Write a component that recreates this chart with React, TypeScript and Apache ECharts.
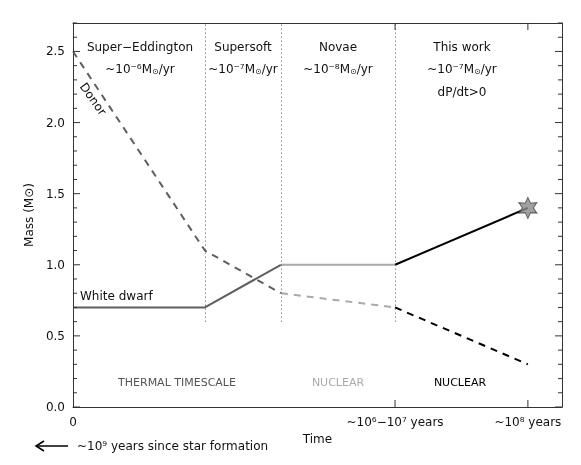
import React, { useEffect, useRef } from "react";
import * as echarts from "echarts";

// Time positions (arbitrary linear units) of the phase boundaries and end
const xPoints = [0, 2.9, 4.57, 7.08, 10];
const donorMass = [2.5, 1.1, 0.8, 0.7, 0.3];
const wdMass = [0.7, 0.7, 1.0, 1.0, 1.4];
const phaseBounds = [2.9, 4.57, 7.08];
const xTickValues = [7.08, 10];
const xLabelValues = [0, 7.08, 10];
const xLabelTexts = ["0", "~10⁶−10⁷ years", "~10⁸ years"];
const yMajorTicks = [0, 0.5, 1.0, 1.5, 2.0, 2.5];
const yMinorStep = 0.1;
const yMin = 0;
const yMax = 2.7;
const xMax = 10.75;

const DARK = "#5f5f5f";
const LIGHT = "#aaaaaa";
const BLACK = "#000000";
const FONT = "DejaVu Sans";
const AX = "#333";

function seg(ys: number[], i: number, j: number) {
  const out: number[][] = [];
  for (let k = i; k <= j; k++) out.push([xPoints[k], ys[k]]);
  return out;
}

function starPath() {
  const pts: string[] = [];
  for (let i = 0; i < 12; i++) {
    const a = ((-90 + i * 30) * Math.PI) / 180;
    const r = i % 2 === 0 ? 10 : 5.2;
    pts.push(`${(r * Math.cos(a)).toFixed(2)} ${(r * Math.sin(a)).toFixed(2)}`);
  }
  return "path://M" + pts.join(" L") + " Z";
}

const aLine = () => ({ show: true, onZero: false, lineStyle: { color: AX, width: 1 } });

export default function App() {
  const ref = useRef<HTMLDivElement>(null);
  useEffect(() => {
    if (!ref.current) return;
    const chart = echarts.init(ref.current, undefined, { renderer: "svg" });
    const lineSeries = (data: number[][], color: string, dashed: boolean) => ({
      type: "line",
      data,
      symbol: "none",
      silent: true,
      lineStyle: { color, width: 2, type: dashed ? [7, 6] : "solid" },
    });
    const labelFmt = (v: number) => {
      for (let i = 0; i < xLabelValues.length; i++) {
        if (Math.abs(v - xLabelValues[i]) < 1e-6) return xLabelTexts[i];
      }
      return "";
    };
    const txt = { fontFamily: FONT, fontSize: 12, fill: "#111" };
    const rate = (exp: string) => ({
      text: `{a|~10${exp}M}{o|⊙}{a|/yr}`,
      rich: {
        a: { fontFamily: FONT, fontSize: 12, fill: "#111" },
        o: { fontFamily: FONT, fontSize: 8, fill: "#111", padding: [5, 0, 0, 0] },
      },
    });
    const ctext = (x: number, y: number, style: any) => ({
      type: "text",
      x,
      y,
      style: { ...txt, align: "center", verticalAlign: "middle", ...style },
    });
    const graphics: any[] = [
      ctext(140, 47, { text: "Super−Eddington" }),
      ctext(140, 69, rate("⁻⁶")),
      ctext(243, 47, { text: "Supersoft" }),
      ctext(243, 69, rate("⁻⁷")),
      ctext(338, 47, { text: "Novae" }),
      ctext(338, 69, rate("⁻⁸")),
      ctext(462, 47, { text: "This work" }),
      ctext(462, 69, rate("⁻⁷")),
      ctext(462, 92, { text: "dP/dt>0" }),
      {
        type: "text",
        x: 93,
        y: 99,
        rotation: -0.95,
        style: { ...txt, text: "Donor", align: "center", verticalAlign: "middle" },
      },
      {
        type: "text",
        x: 80,
        y: 296,
        style: { ...txt, text: "White dwarf", align: "left", verticalAlign: "middle" },
      },
      ctext(177, 382, { text: "THERMAL TIMESCALE", fill: "#555", fontSize: 11 }),
      ctext(338, 382, { text: "NUCLEAR", fill: "#aaa", fontSize: 11 }),
      ctext(460, 382, { text: "NUCLEAR", fill: "#000", fontSize: 11 }),
      {
        type: "line",
        shape: { x1: 36, y1: 446, x2: 68, y2: 446 },
        style: { stroke: "#000", lineWidth: 1.5 },
      },
      {
        type: "polyline",
        shape: { points: [[44, 441], [36, 446], [44, 451]] },
        style: { stroke: "#000", lineWidth: 1.5, fill: null },
      },
      {
        type: "text",
        x: 77,
        y: 446,
        style: { ...txt, text: "~10⁹ years since star formation", align: "left", verticalAlign: "middle" },
      },
    ];
    chart.setOption({
      animation: false,
      grid: { left: 73, right: 19, top: 23, bottom: 58 },
      xAxis: [
        {
          type: "value",
          min: 0,
          max: xMax,
          position: "bottom",
          name: "Time",
          nameLocation: "middle",
          nameGap: 25,
          nameTextStyle: { fontFamily: FONT, fontSize: 12, color: "#111" },
          axisLine: aLine(),
          axisTick: { show: false },
          axisLabel: {
            customValues: xLabelValues,
            formatter: labelFmt,
            fontFamily: FONT,
            fontSize: 12,
            color: "#111",
            margin: 9,
          },
          splitLine: { show: false },
        },
        {
          type: "value",
          min: 0,
          max: xMax,
          position: "top",
          axisLine: aLine(),
          axisTick: { show: false },
          axisLabel: { show: false },
          splitLine: { show: false },
        },
      ],
      yAxis: [
        {
          type: "value",
          min: yMin,
          max: yMax,
          interval: 0.5,
          position: "left",
          name: "Mass (M⊙)",
          nameLocation: "middle",
          nameGap: 36,
          nameTextStyle: { fontFamily: FONT, fontSize: 12, color: "#111" },
          axisLine: aLine(),
          axisTick: { show: false },
          minorTick: { show: false },
          axisLabel: {
            fontFamily: FONT,
            fontSize: 12,
            color: "#111",
            margin: 8,
            formatter: (v: number) => (v > 2.6 ? "" : v.toFixed(1)),
          },
          splitLine: { show: false },
        },
        {
          type: "value",
          min: yMin,
          max: yMax,
          interval: 0.5,
          position: "right",
          axisLine: aLine(),
          axisTick: { show: false },
          minorTick: { show: false },
          axisLabel: { show: false },
          splitLine: { show: false },
        },
      ],
      series: [
        {
          type: "line",
          data: [],
          silent: true,
          markLine: {
            silent: true,
            symbol: "none",
            label: { show: false },
            lineStyle: { color: "#555", width: 1, type: [1, 3] },
            data: phaseBounds.map((x) => [{ coord: [x, 0.6] }, { coord: [x, yMax] }]),
          },
        },
        lineSeries(seg(donorMass, 0, 2), DARK, true),
        lineSeries(seg(donorMass, 2, 3), LIGHT, true),
        lineSeries(seg(donorMass, 3, 4), BLACK, true),
        lineSeries(seg(wdMass, 0, 2), DARK, false),
        lineSeries(seg(wdMass, 2, 3), LIGHT, false),
        lineSeries(seg(wdMass, 3, 4), BLACK, false),
        {
          type: "scatter",
          data: [[xPoints[4], wdMass[4]]],
          symbol: starPath(),
          symbolSize: [18, 21],
          silent: true,
          itemStyle: { color: "#8a8a8a", borderColor: "#444", borderWidth: 1 },
          z: 5,
        },
      ],
      graphic: graphics,
    });

    // Inward ticks on all four sides, positioned through the chart's own scales
    try {
      const p0 = chart.convertToPixel({ gridIndex: 0 }, [0, yMin]) as number[];
      const p1 = chart.convertToPixel({ gridIndex: 0 }, [xMax, yMax]) as number[];
      const L = p0[0], B = p0[1], R = p1[0], T = p1[1];
      const tickEls: any[] = [];
      const tl = (x1: number, y1: number, x2: number, y2: number) =>
        tickEls.push({ type: "line", shape: { x1, y1, x2, y2 }, style: { stroke: AX, lineWidth: 1 }, z: 10 });
      const nMinor = Math.round((yMax - yMin) / yMinorStep);
      for (let i = 0; i <= nMinor; i++) {
        const v = yMin + i * yMinorStep;
        const isMajor = yMajorTicks.some((m) => Math.abs(m - v) < 1e-6);
        const len = isMajor ? 7 : 4;
        const py = (chart.convertToPixel({ gridIndex: 0 }, [0, v]) as number[])[1];
        tl(L, py, L + len, py);
        tl(R, py, R - len, py);
      }
      xTickValues.forEach((v) => {
        const px = (chart.convertToPixel({ gridIndex: 0 }, [v, 0]) as number[])[0];
        tl(px, B, px, B - 7);
        tl(px, T, px, T + 7);
      });
      chart.setOption({ graphic: [...graphics, ...tickEls] });
    } catch (e) {
      // leave chart without extra ticks
    }
    return () => chart.dispose();
  }, []);
  return (
    <div
      ref={ref}
      style={{ position: "fixed", left: 0, top: 0, width: 581, height: 465 }}
    />
  );
}
